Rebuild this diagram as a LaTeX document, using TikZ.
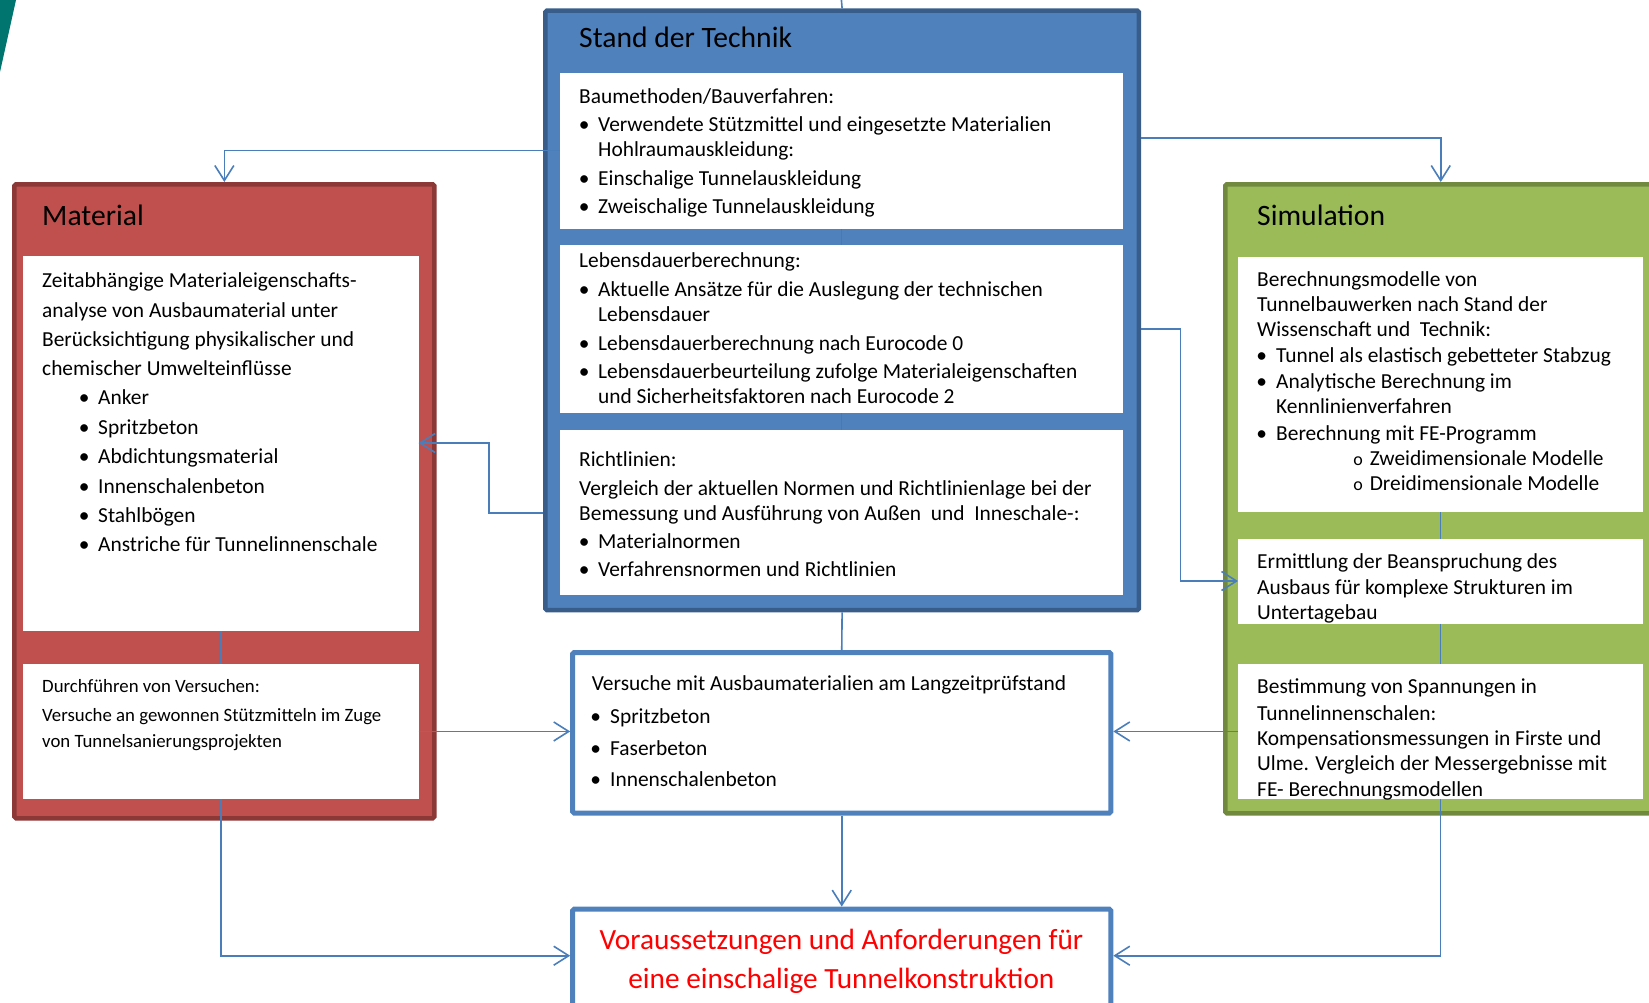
\documentclass[tikz,border=0pt]{standalone}
\usepackage{fontspec}
\setmainfont{Carlito}
\usetikzlibrary{arrows.meta}
\definecolor{stfill}{HTML}{4F81BD}
\definecolor{stline}{HTML}{385D8A}
\definecolor{mafill}{HTML}{C0504D}
\definecolor{maline}{HTML}{8C3836}
\definecolor{sifill}{HTML}{9BBB59}
\definecolor{siline}{HTML}{71893F}
\definecolor{conn}{HTML}{4A7EBB}
\definecolor{tealc}{HTML}{00756F}
\definecolor{redc}{HTML}{C0504D}
\newcommand\bu[1]{\kern-#1\makebox[0pt][c]{\textbullet}\kern#1}
\newcommand\ci[1]{\kern-#1\makebox[0pt][c]{\fontsize{18}{18}\selectfont o}\kern#1}
\tikzset{
 outerbox/.style={draw, line width=4.5pt, rounded corners=1.5pt, inner sep=0pt, anchor=north west},
 whitebox/.style={fill=white, draw=none, inner sep=0pt, outer sep=0pt, anchor=north west},
 ln/.style={anchor=base west, inner sep=0pt, font=\fontsize{21.4}{25}\selectfont},
 sm/.style={anchor=base west, inner sep=0pt, font=\fontsize{18.8}{22}\selectfont},
 ttl/.style={anchor=base west, inner sep=0pt, font=\fontsize{29.6}{35}\selectfont},
 big/.style={anchor=base, inner sep=0pt, text=red, font=\fontsize{29.3}{35}\selectfont},
 cn/.style={draw=conn, line width=1.6pt},
 redln/.style={draw=redc, line width=1.2pt},
 arr/.style={cn, -{Straight Barb[length=15pt,width=19pt]}},
}
\begin{document}
\begin{tikzpicture}[x=1pt,y=-1pt]
\useasboundingbox (0,0) rectangle (1649,1002);
\fill[tealc] (0,0) -- (16,0) -- (0,72) -- cycle;

% outer boxes (anchors at outer edge of the border)
\node[outerbox, draw=stline, fill=stfill, minimum width=593.3pt, minimum height=599.5pt] (std) at (543.2,8.4) {};
\node[outerbox, draw=maline, fill=mafill, minimum width=419.8pt, minimum height=634pt] (mat) at (12.2,182) {};
\node[outerbox, draw=siline, fill=sifill, minimum width=431pt, minimum height=629pt] (sim) at (1223,182) {};
\node[outerbox, draw=stfill, fill=white, line width=5pt, minimum width=538.1pt, minimum height=160.5pt] (ver) at (570.2,650) {};
\node[outerbox, draw=stfill, fill=white, line width=5pt, minimum width=538.1pt, minimum height=110pt] (vor) at (570.2,906.6) {};

% white inner boxes
\node[whitebox, minimum width=563.5pt, minimum height=156.4pt] (stw1) at (559.5,72.6) {};
\node[whitebox, minimum width=563.5pt, minimum height=168pt] (stw2) at (559.5,245) {};
\node[whitebox, minimum width=563.5pt, minimum height=165pt] (stw3) at (559.5,430) {};
\node[whitebox, minimum width=395.6pt, minimum height=375.4pt] (matw1) at (23,255.6) {};
\node[whitebox, minimum width=395.6pt, minimum height=135.7pt] (matw2) at (23,663.6) {};
\node[whitebox, minimum width=405pt, minimum height=255.4pt] (simw1) at (1238,256.6) {};
\node[whitebox, minimum width=405pt, minimum height=85pt] (simw2) at (1238,538.5) {};
\node[whitebox, minimum width=405pt, minimum height=135.7pt] (simw3) at (1238,663.6) {};

% connectors
\coordinate (topin) at (841.4,0);
\draw[cn] (topin) -- (std.north);
\draw[redln] (stw1.south) -- (stw2.north);
\draw[redln] (stw2.south) -- (stw3.north);
\draw[cn] (matw1.south) -- (matw2.north);
\draw[cn] (simw1.south) -- (simw2.north);
\draw[cn] (simw2.south) -- (simw3.north);
\draw[arr] (stw1.west |- 0,150.5) -| (mat.north);
\draw[arr] (std.east |- 0,138) -| (sim.north);
\draw[arr] (std.east |- 0,329) -| (1180.5,455) |- (simw2.west);
\draw[arr] (std.west |- 0,512.7) -| (489,480) |- (matw1.east |- 0,443);
\draw[cn] (std.south) -- (ver.north);
\draw[arr] (ver.south) -- (vor.north);
\draw[arr] (matw2.east) -- (matw2.east -| ver.west);
\draw[arr] (simw3.west) -- (simw3.west -| ver.east);
\draw[arr] (matw2.south) |- (vor.west |- 0,955.7);
\draw[arr] (simw3.south) |- (vor.east |- 0,955.7);

% titles
\node[ttl] (tst) at (579,47.7) {Stand der Technik};
\node[ttl] (tma) at (42,225) {Material};
\node[ttl] (tsi) at (1257,225) {Simulation};

% Stand der Technik texts
\node[ln] (s1) at (579,103) {Baumethoden/Bauverfahren:};
\node[ln] (s2) at (598,131) {\bu{14pt}Verwendete Stützmittel und eingesetzte Materialien};
\node[ln] (s3) at (598,156.7) {Hohlraumauskleidung:};
\node[ln] (s4) at (598,185) {\bu{14pt}Einschalige Tunnelauskleidung};
\node[ln] (s5) at (598,213) {\bu{14pt}Zweischalige Tunnelauskleidung};
\node[ln] (s6) at (579,267) {Lebensdauerberechnung:};
\node[ln] (s7) at (598,296.7) {\bu{14pt}Aktuelle Ansätze für die Auslegung der technischen};
\node[ln] (s8) at (598,321.7) {Lebensdauer};
\node[ln] (s9) at (598,350) {\bu{14pt}Lebensdauerberechnung nach Eurocode 0};
\node[ln] (s10) at (598,378) {\bu{14pt}Lebensdauerbeurteilung zufolge Materialeigenschaften};
\node[ln] (s11) at (598,403) {und Sicherheitsfaktoren nach Eurocode 2};
\node[ln] (s12) at (579,466.7) {Richtlinien:};
\node[ln] (s13) at (579,495) {Vergleich der aktuellen Normen und Richtlinienlage bei der};
\node[ln] (s14) at (579,520) {Bemessung und Ausführung von Außen\ \ und\ \ Inneschale-:};
\node[ln] (s15) at (598,548) {\bu{14pt}Materialnormen};
\node[ln] (s16) at (598,576.7) {\bu{14pt}Verfahrensnormen und Richtlinien};

% Material texts
\node[ln] (m1) at (42,287) {Zeitabhängige Materialeigenschafts-};
\node[ln] (m2) at (42,317) {analyse von Ausbaumaterial unter};
\node[ln] (m3) at (42,346) {Berücksichtigung physikalischer und};
\node[ln] (m4) at (42,375) {chemischer Umwelteinflüsse};
\node[ln] (m5) at (98,404.6) {\bu{14pt}Anker};
\node[ln] (m6) at (98,434) {\bu{14pt}Spritzbeton};
\node[ln] (m7) at (98,463.5) {\bu{14pt}Abdichtungsmaterial};
\node[ln] (m8) at (98,493) {\bu{14pt}Innenschalenbeton};
\node[ln] (m9) at (98,522) {\bu{14pt}Stahlbögen};
\node[ln] (m10) at (98,551.8) {\bu{14pt}Anstriche für Tunnelinnenschale};
\node[sm] (m11) at (42,692.7) {Durchführen von Versuchen:};
\node[sm] (m12) at (42,721.7) {Versuche an gewonnen Stützmitteln im Zuge};
\node[sm] (m13) at (42,747.7) {von Tunnelsanierungsprojekten};

% Versuche texts
\node[ln] (v1) at (591.7,690) {Versuche mit Ausbaumaterialien am Langzeitprüfstand};
\node[ln] (v2) at (610,723) {\bu{14.5pt}Spritzbeton};
\node[ln] (v3) at (610,755) {\bu{14.5pt}Faserbeton};
\node[ln] (v4) at (610,786.7) {\bu{14.5pt}Innenschalenbeton};

% Voraussetzungen
\node[big] (r1) at (841.4,949) {Voraussetzungen und Anforderungen für};
\node[big] (r2) at (841.4,988) {eine einschalige Tunnelkonstruktion};

% Simulation texts
\node[ln] (i1) at (1257,286) {Berechnungsmodelle von};
\node[ln] (i2) at (1257,311.7) {Tunnelbauwerken nach Stand der};
\node[ln] (i3) at (1257,336.7) {Wissenschaft und\ \ Technik:};
\node[ln] (i4) at (1276,362.7) {\bu{14.6pt}Tunnel als elastisch gebetteter Stabzug};
\node[ln] (i5) at (1276,388) {\bu{14.6pt}Analytische Berechnung im};
\node[ln] (i6) at (1276,413) {Kennlinienverfahren};
\node[ln] (i7) at (1276,440) {\bu{14.6pt}Berechnung mit FE-Programm};
\node[ln] (i8) at (1369.6,465) {\ci{11.6pt}Zweidimensionale Modelle};
\node[ln] (i9) at (1369.6,490) {\ci{11.6pt}Dreidimensionale Modelle};
\node[ln] (i10) at (1257,568) {Ermittlung der Beanspruchung des};
\node[ln] (i11) at (1257,594) {Ausbaus für komplexe Strukturen im};
\node[ln] (i12) at (1257,619) {Untertagebau};
\node[ln] (i13) at (1257,693) {Bestimmung von Spannungen in};
\node[ln] (i14) at (1257,720) {Tunnelinnenschalen:};
\node[ln] (i15) at (1257,745) {Kompensationsmessungen in Firste und};
\node[ln] (i16) at (1257,770.7) {Ulme. Vergleich der Messergebnisse mit};
\node[ln] (i17) at (1257,796) {FE- Berechnungsmodellen};
\end{tikzpicture}
\end{document}
